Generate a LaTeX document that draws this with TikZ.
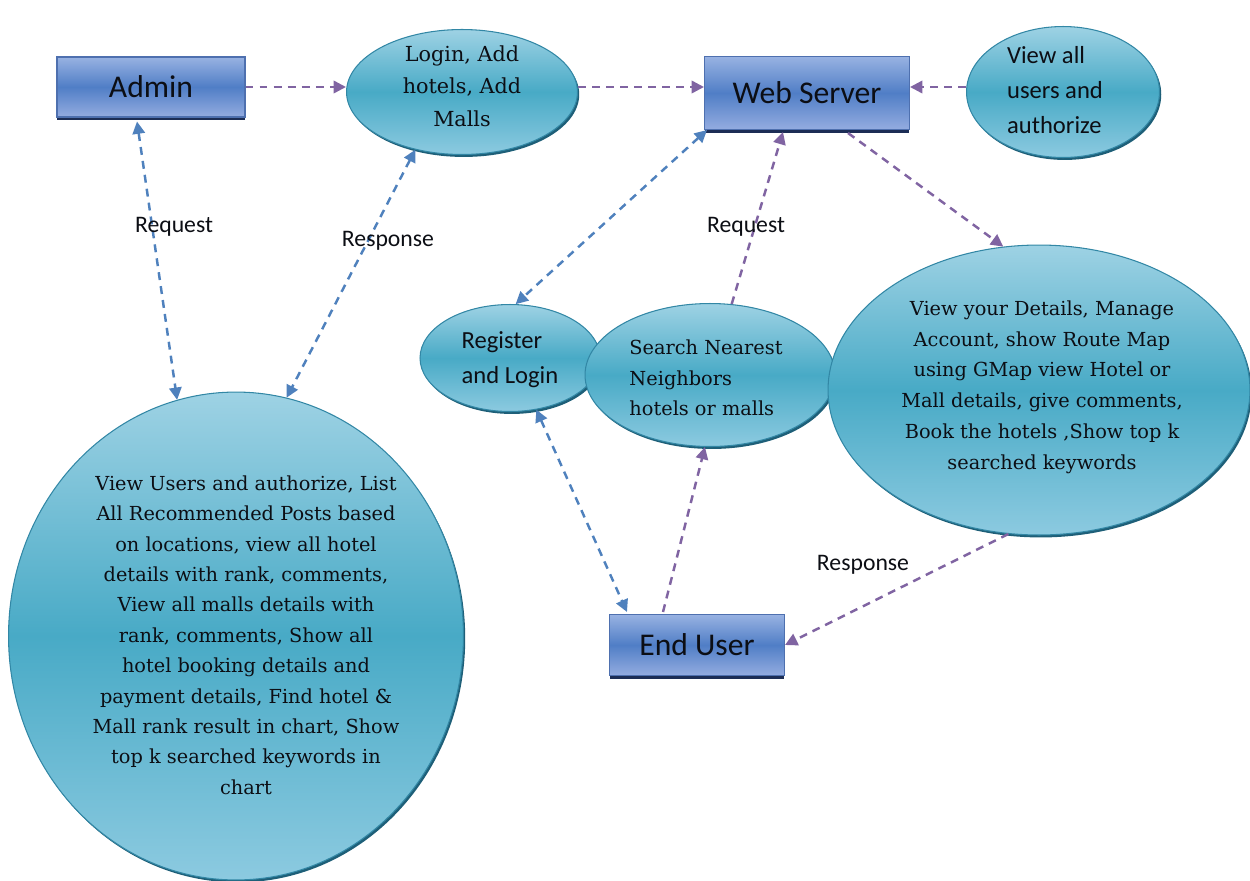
\documentclass[tikz,border=0pt]{standalone}
\usepackage{fontspec}
\setmainfont{Carlito}
\newfontfamily\slab{DejaVu Serif}
\usetikzlibrary{arrows.meta,shapes.geometric,shadows,calc}

\definecolor{purp}{RGB}{128,100,162}
\definecolor{blu}{RGB}{79,129,189}
\definecolor{boxtop}{RGB}{152,178,226}
\definecolor{boxmid}{RGB}{80,126,198}
\definecolor{boxbot}{RGB}{148,172,224}
\definecolor{boxline}{RGB}{78,112,175}
\definecolor{boxshade}{RGB}{28,45,85}
\definecolor{ovtop}{RGB}{158,210,228}
\definecolor{ovmid}{RGB}{72,170,198}
\definecolor{ovbot}{RGB}{140,202,224}
\definecolor{ovline}{RGB}{50,135,165}
\definecolor{ovshade}{RGB}{30,95,120}
\definecolor{ink}{RGB}{12,14,20}
\tikzset{>={Triangle[length=7pt,width=7pt]}}
\tikzstyle{flow}=[line width=1.4pt,dash pattern=on 4.5pt off 3.5pt]
\tikzstyle{pflow}=[flow,purp,->]
\tikzstyle{bflow}=[flow,blu,<->]
\tikzstyle{unit}=[rectangle,draw=boxline,line width=0.6pt,top color=boxtop,bottom color=boxbot,middle color=boxmid,
  drop shadow={shadow xshift=0pt,shadow yshift=-1.8pt,fill=boxshade,opacity=1},text=ink,font=\fontsize{18}{20}\selectfont]
\tikzstyle{oval}=[ellipse,draw=ovline,line width=0.6pt,top color=ovtop,bottom color=ovbot,middle color=ovmid,
  drop shadow={shadow xshift=1pt,shadow yshift=-1.4pt,fill=ovshade,opacity=1},inner sep=0pt]
\tikzstyle{slabtxt}=[align=center,text=ink,font=\slab\fontsize{11}{17.5}\selectfont]
\tikzstyle{sanstxt}=[align=left,text=ink,font=\fontsize{14}{20}\selectfont]
\tikzstyle{lbl}=[text=ink,font=\fontsize{13.5}{16}\selectfont]

\begin{document}
\begin{tikzpicture}[x=0.02cm,y=-0.02cm]
  \useasboundingbox (0,0) rectangle (1250,880);

  % BOXES
  \node[unit,minimum width=3.76cm,minimum height=1.2cm] (admin) at (151,87) {Admin};
  \node[unit,minimum width=4.1cm,minimum height=1.46cm] (web) at (807,93) {Web Server};
  \node[unit,minimum width=3.5cm,minimum height=1.22cm] (user) at (697,645) {End User};

  % OVALS
  \node[oval,minimum width=4.62cm,minimum height=2.5cm] (login) at (462,92) {};
  \node[oval,minimum width=3.86cm,minimum height=2.62cm] (viewall) at (1063,92) {};
  \node[oval,minimum width=3.6cm,minimum height=2.14cm] (register) at (510,358) {};
  \node[oval,minimum width=5.0cm,minimum height=2.86cm] (search) at (710,375) {};
  \node[oval,minimum width=8.44cm,minimum height=5.8cm] (right) at (1039,390) {};
  \node[oval,minimum width=9.1cm,minimum height=9.76cm] (bigleft) at (236,636) {};

  \node[slabtxt,font=\slab\fontsize{11.8}{18.6}\selectfont] (logintxt) at (462,86) {Login, Add\\hotels, Add\\Malls};
  \node[sanstxt] (viewalltxt) at (1055,90) {View all\\users and\\authorize};
  \node[sanstxt] (registertxt) at (510,360) {Register\\and Login};
  \node[slabtxt,align=left] (searchtxt) at (706,378) {Search Nearest\\Neighbors\\hotels or malls};
  \node[slabtxt] (righttxt) at (1042,387) {View your Details, Manage\\Account, show Route Map\\using GMap view Hotel or\\
    Mall details, give comments,\\Book the hotels ,Show top k\\searched keywords};
  \node[slabtxt,font=\slab\fontsize{11}{17.3}\selectfont] (bigtxt) at (246,635) {View Users and authorize, List\\All Recommended Posts based\\on locations, view all hotel\\
    details with rank, comments,\\View all malls details with\\rank, comments, Show all\\hotel booking details and\\
    payment details, Find hotel \&\\Mall rank result in chart, Show\\top k searched keywords in\\chart};

  % ARROWS
  \draw[pflow] (admin.east) -- (admin.east -| login.west);
  \draw[pflow] (login.east |- admin.east) -- (web.west |- admin.east);
  \draw[pflow] (viewall.west |- admin.east) -- (web.east |- admin.east);
  \draw[bflow] ($(admin.south)+(-14,4)$) -- (bigleft.104);
  \draw[bflow] (login.231) -- (bigleft.78);
  \draw[bflow] ($(web.south west)+(3,0)$) -- (register.84);
  \draw[pflow] (search.73) -- ($(web.south)+(-24,2)$);
  \draw[pflow] ($(web.south)+(41,3)$) -- (right.104);
  \draw[bflow] (register.-63) -- ($(user.north west)+(18,-2)$);
  \draw[pflow] ($(user.north)+(-34,-2)$) -- (search.266);
  \draw[pflow] (right.258) -- (user.east);

  % LABELS
  \node[lbl] (req1) at (174,227) {Request};
  \node[lbl] (resp1) at (388,241) {Response};
  \node[lbl] (req2) at (746,227) {Request};
  \node[lbl] (resp2) at (863,565) {Response};

\end{tikzpicture}
\end{document}
